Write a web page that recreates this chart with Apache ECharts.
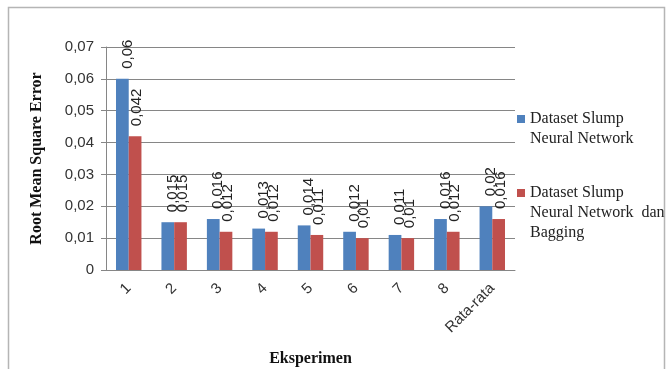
<!DOCTYPE html>
<html>
<head>
<meta charset="utf-8">
<script src="https://cdn.jsdelivr.net/npm/echarts@6/dist/echarts.min.js"></script>
<style>
  html, body { margin: 0; padding: 0; background: #fff; }
  #chart { width: 669px; height: 369px; }
</style>
</head>
<body>
<div id="chart"></div>
<script>
// ── data ──
const categories = ['1', '2', '3', '4', '5', '6', '7', '8', 'Rata-rata']
const nnValues = [0.06, 0.015, 0.016, 0.013, 0.014, 0.012, 0.011, 0.016, 0.02]
const baggingValues = [0.042, 0.015, 0.012, 0.012, 0.011, 0.01, 0.01, 0.012, 0.016]
const seriesNames = ['Dataset Slump Neural Network', 'Dataset Slump Neural Network dan Bagging']

const sans = 'Liberation Sans, Arial, sans-serif'
const serif = 'Liberation Serif, Times New Roman, serif'
const comma = (v) => String(v).replace('.', ',')

const barLabel = (dx) => ({
  show: true,
  position: 'top',
  rotate: 90,
  align: 'left',
  verticalAlign: 'middle',
  distance: 10,
  offset: [0, dx],
  fontSize: 15,
  fontFamily: sans,
  color: '#222',
  formatter: (p) => comma(p.value),
})

const chart = echarts.init(document.getElementById('chart'))
chart.setOption({
  animation: false,
  backgroundColor: '#fff',
  graphic: [{
    type: 'rect',
    shape: { x: 8.5, y: 7.5, width: 656, height: 400 },
    style: { fill: 'none', stroke: '#b5b5b5', lineWidth: 1.5 },
    silent: true,
  }],
  grid: { left: 106, right: 154, top: 47, bottom: 99, outerBoundsMode: 'none', containLabel: false },
  legend: [
    {
      data: [seriesNames[0]],
      left: 517, top: 89, padding: 0,
      itemWidth: 8, itemHeight: 8, icon: 'rect',
      textStyle: { fontFamily: serif, fontSize: 16, color: '#222', lineHeight: 20 },
      formatter: () => '\nDataset Slump\nNeural Network',
    },
    {
      data: [seriesNames[1]],
      left: 517, top: 143, padding: 0,
      itemWidth: 8, itemHeight: 8, icon: 'rect',
      textStyle: { fontFamily: serif, fontSize: 16, color: '#222', lineHeight: 20 },
      formatter: () => '\n\nDataset Slump\nNeural Network  dan\nBagging',
    },
  ],
  xAxis: {
    type: 'category',
    data: categories,
    name: 'Eksperimen',
    nameLocation: 'middle',
    nameGap: 81,
    nameTextStyle: { fontFamily: serif, fontSize: 16, fontWeight: 'bold', color: '#111' },
    axisLine: { lineStyle: { color: '#868686' } },
    axisTick: { show: false },
    axisLabel: { rotate: 45, margin: 16, fontSize: 15, fontFamily: sans, color: '#333' },
  },
  yAxis: {
    type: 'value',
    min: 0, max: 0.07, interval: 0.01,
    name: 'Root Mean Square Error',
    nameLocation: 'middle',
    nameGap: 61,
    nameTextStyle: { fontFamily: serif, fontSize: 16, fontWeight: 'bold', color: '#111' },
    axisLine: { show: true, lineStyle: { color: '#868686' } },
    axisTick: { show: true, length: 5, lineStyle: { color: '#868686' } },
    splitLine: { lineStyle: { color: '#868686' } },
    axisLabel: { margin: 12, fontSize: 15, fontFamily: sans, color: '#333', formatter: (v) => comma(v) },
  },
  series: [
    {
      name: seriesNames[0], type: 'bar', data: nnValues,
      barWidth: '28%', barGap: '0%',
      itemStyle: { color: '#4f81bd' },
      label: barLabel(5),
    },
    {
      name: seriesNames[1], type: 'bar', data: baggingValues,
      barWidth: '28%',
      itemStyle: { color: '#c0504d' },
      label: barLabel(2),
    },
  ],
})
</script>
</body>
</html>
